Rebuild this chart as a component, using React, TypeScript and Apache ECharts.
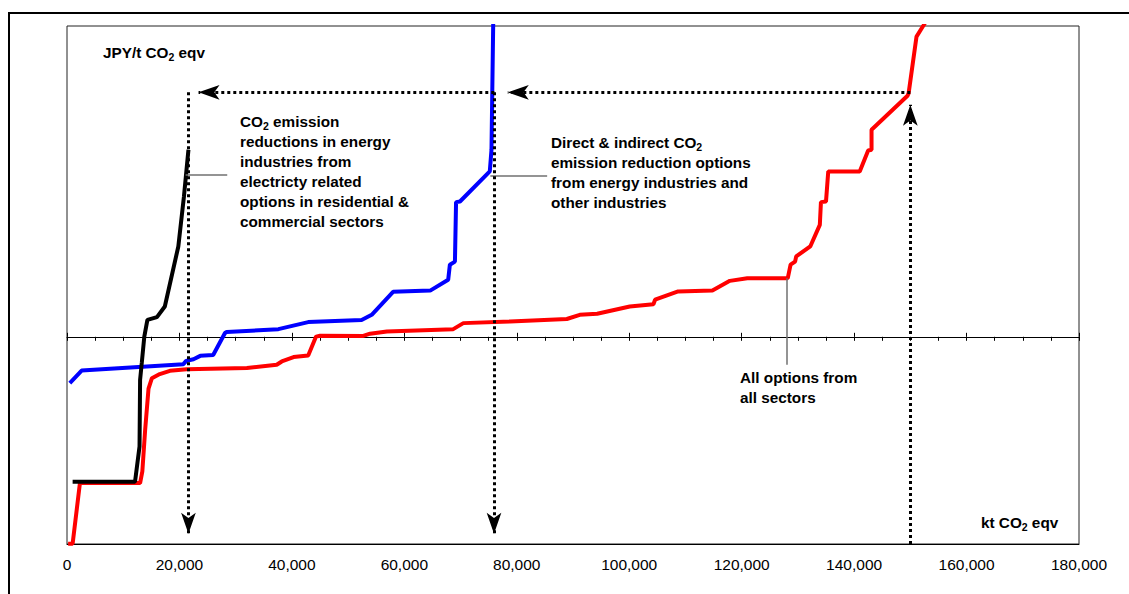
import React, { useEffect, useRef } from "react";
import * as echarts from "echarts";

// ---------- axes ----------
const X_MIN = 0;
const X_MAX = 180000;
const X_STEP = 20000;
const Y_MIN = -10000;
const Y_MAX = 15000;

// ---------- series (x: kt CO2 eqv, y: JPY/t CO2 eqv) ----------
const allSectors: [number, number][] = [
  [200, -9990], [1000, -9990], [2300, -7060], [13000, -7060], [13400, -6500],
  [13900, -4490], [14500, -2500], [15100, -2000], [16500, -1800], [18300, -1640],
  [21300, -1570], [32000, -1510], [37300, -1350], [38200, -1190], [40300, -980],
  [42900, -900], [44300, 10], [45000, 50], [52700, 40], [53900, 150], [56900, 260],
  [68700, 370], [70500, 660], [78800, 740], [88900, 860], [91200, 1060], [94300, 1110],
  [100100, 1460], [104300, 1570], [104600, 1790], [108700, 2190], [114800, 2240],
  [117900, 2700], [121000, 2830], [128200, 2830], [128700, 3480], [129500, 3630],
  [129700, 3880], [132200, 4360], [133900, 5400], [134100, 6500], [135000, 6530],
  [135400, 7980], [141000, 7980], [142500, 8990], [143100, 9030], [143100, 9990],
  [149500, 11630], [149700, 11760], [151100, 14490], [152300, 15010], [153300, 15450],
];

const energyIndustries: [number, number][] = [
  [500, -2230], [2600, -1630], [20700, -1320], [21200, -1160], [22500, -1080],
  [23700, -920], [26000, -880], [28100, 180], [28400, 230], [37600, 370],
  [42900, 710], [52400, 810], [54200, 1060], [58000, 2170], [64600, 2230],
  [67800, 2750], [68100, 3480], [69000, 3630], [69200, 6500], [69900, 6530],
  [75200, 7980], [75500, 9020], [75800, 14980], [75850, 16000],
];

const electricityRelated: [number, number][] = [
  [1000, -7000], [12100, -7000], [12900, -5290], [13000, -2080], [13300, -1260],
  [13750, 10], [14300, 820], [16000, 950], [17400, 1460], [19800, 4360],
  [20800, 6770], [21600, 9030],
];

// dotted arrows (from -> to, arrowhead at "to")
const arrowSegments: [number, number][][] = [
  [[150000, -10000], [150000, 11200]],
  [[150000, 11800], [78400, 11800]],
  [[76000, 11800], [23400, 11800]],
  [[21600, 11800], [21600, -9500]],
  [[75950, 11800], [75950, -9500]],
];

// leader lines from labels to curves
const leaderSegments: [number, number][][] = [
  [[21100, 7800], [28500, 7800]],
  [[75300, 7770], [85400, 7770]],
  [[128100, 2830], [128100, -1350]],
];

const FONT = 'Arial, "Liberation Sans", Helvetica, sans-serif';

const rich = {
  b: { fontFamily: FONT, fontWeight: "bold", fontSize: 15.3, lineHeight: 20, fill: "#000", color: "#000" },
  s: { fontFamily: FONT, fontWeight: "bold", fontSize: 10.5, lineHeight: 20, verticalAlign: "bottom", fill: "#000", color: "#000" },
};

function label(x: number, y: number, text: string) {
  return {
    type: "text",
    x,
    y,
    silent: true,
    style: { text, rich, align: "left", verticalAlign: "top", fill: "#000" },
  };
}

export default function App() {
  const ref = useRef<HTMLDivElement>(null);

  useEffect(() => {
    document.body.style.margin = "0";
    const chart = echarts.init(ref.current!, null, { renderer: "svg" });
    const option: any = {
      animation: false,
      backgroundColor: "#fff",
      grid: { left: 67, top: 26, right: 50, bottom: 50, show: true, borderColor: "#222", borderWidth: 1 },
      xAxis: [
        {
          type: "value", min: X_MIN, max: X_MAX, interval: X_STEP, position: "bottom",
          axisLine: { show: true, onZero: false, lineStyle: { color: "#000", width: 1 } },
          axisTick: { show: false },
          splitLine: { show: false },
          axisLabel: {
            margin: 12, color: "#000", fontFamily: FONT, fontSize: 15.5,
            formatter: (v: number) => v.toLocaleString("en-US"),
          },
        },
        {
          type: "value", min: X_MIN, max: X_MAX, interval: X_STEP, position: "bottom",
          axisLine: { show: true, onZero: true, onZeroAxisIndex: 0, lineStyle: { color: "#000", width: 1 } },
          axisTick: { show: true, length: 4, lineStyle: { color: "#000", width: 1 } },
          minorTick: { show: true, splitNumber: 4, length: 4, lineStyle: { color: "#000", width: 1 } },
          splitLine: { show: false },
          axisLabel: { show: false },
        },
        {
          type: "value", min: X_MIN, max: X_MAX, interval: X_STEP, position: "top",
          axisLine: { show: false, onZero: true, onZeroAxisIndex: 0 },
          axisTick: { show: true, length: 4, lineStyle: { color: "#000", width: 1 } },
          splitLine: { show: false },
          axisLabel: { show: false },
        },
      ],
      yAxis: [
        {
          type: "value", min: Y_MIN, max: Y_MAX,
          axisLine: { show: false }, axisTick: { show: false },
          axisLabel: { show: false }, splitLine: { show: false },
        },
      ],
      series: [
        {
          name: "All options from all sectors", type: "line", data: allSectors,
          showSymbol: false, symbol: "none", clip: true,
          lineStyle: { color: "#ff0000", width: 4 }, z: 2,
        },
        {
          name: "Direct & indirect", type: "line", data: energyIndustries,
          showSymbol: false, symbol: "none", clip: true,
          lineStyle: { color: "#0000ff", width: 4 }, z: 3,
        },
        {
          name: "Electricity related", type: "line", data: electricityRelated,
          showSymbol: false, symbol: "none", clip: true,
          lineStyle: { color: "#000000", width: 4 }, z: 4,
        },
        {
          name: "leaders", type: "lines", coordinateSystem: "cartesian2d", silent: true,
          symbol: "none",
          lineStyle: { color: "#707070", width: 1.5, type: "solid", opacity: 1 },
          data: leaderSegments.map((c) => ({ coords: c })), z: 5,
        },
        {
          name: "arrows", type: "lines", coordinateSystem: "cartesian2d", silent: true,
          symbol: ["none", "arrow"], symbolSize: [0, [11, 21]],
          lineStyle: { color: "#000", width: 3, type: [3, 3], opacity: 1, cap: "butt" },
          itemStyle: { color: "#000" },
          data: arrowSegments.map((c) => ({ coords: c })), z: 6,
        },
      ],
      graphic: [
        { type: "line", silent: true, shape: { x1: 8, y1: 13, x2: 1129, y2: 13 }, style: { stroke: "#000", lineWidth: 2 } },
        { type: "line", silent: true, shape: { x1: 9, y1: 12, x2: 9, y2: 594 }, style: { stroke: "#000", lineWidth: 2 } },
        label(103, 42, "{b|JPY/t CO}{s|2}{b| eqv}"),
        label(240, 111,
          "{b|CO}{s|2}{b| emission}\n{b|reductions in energy}\n{b|industries from}\n{b|electricty related}\n{b|options in residential &}\n{b|commercial sectors}"),
        label(551, 132,
          "{b|Direct & indirect CO}{s|2}\n{b|emission reduction options}\n{b|from energy industries and}\n{b|other industries}"),
        label(740, 367, "{b|All options from}\n{b|all sectors}"),
        label(981, 512, "{b|kt CO}{s|2}{b| eqv}"),
      ],
    };
    chart.setOption(option);
    return () => chart.dispose();
  }, []);

  return <div ref={ref} style={{ width: 1129, height: 594 }} />;
}
